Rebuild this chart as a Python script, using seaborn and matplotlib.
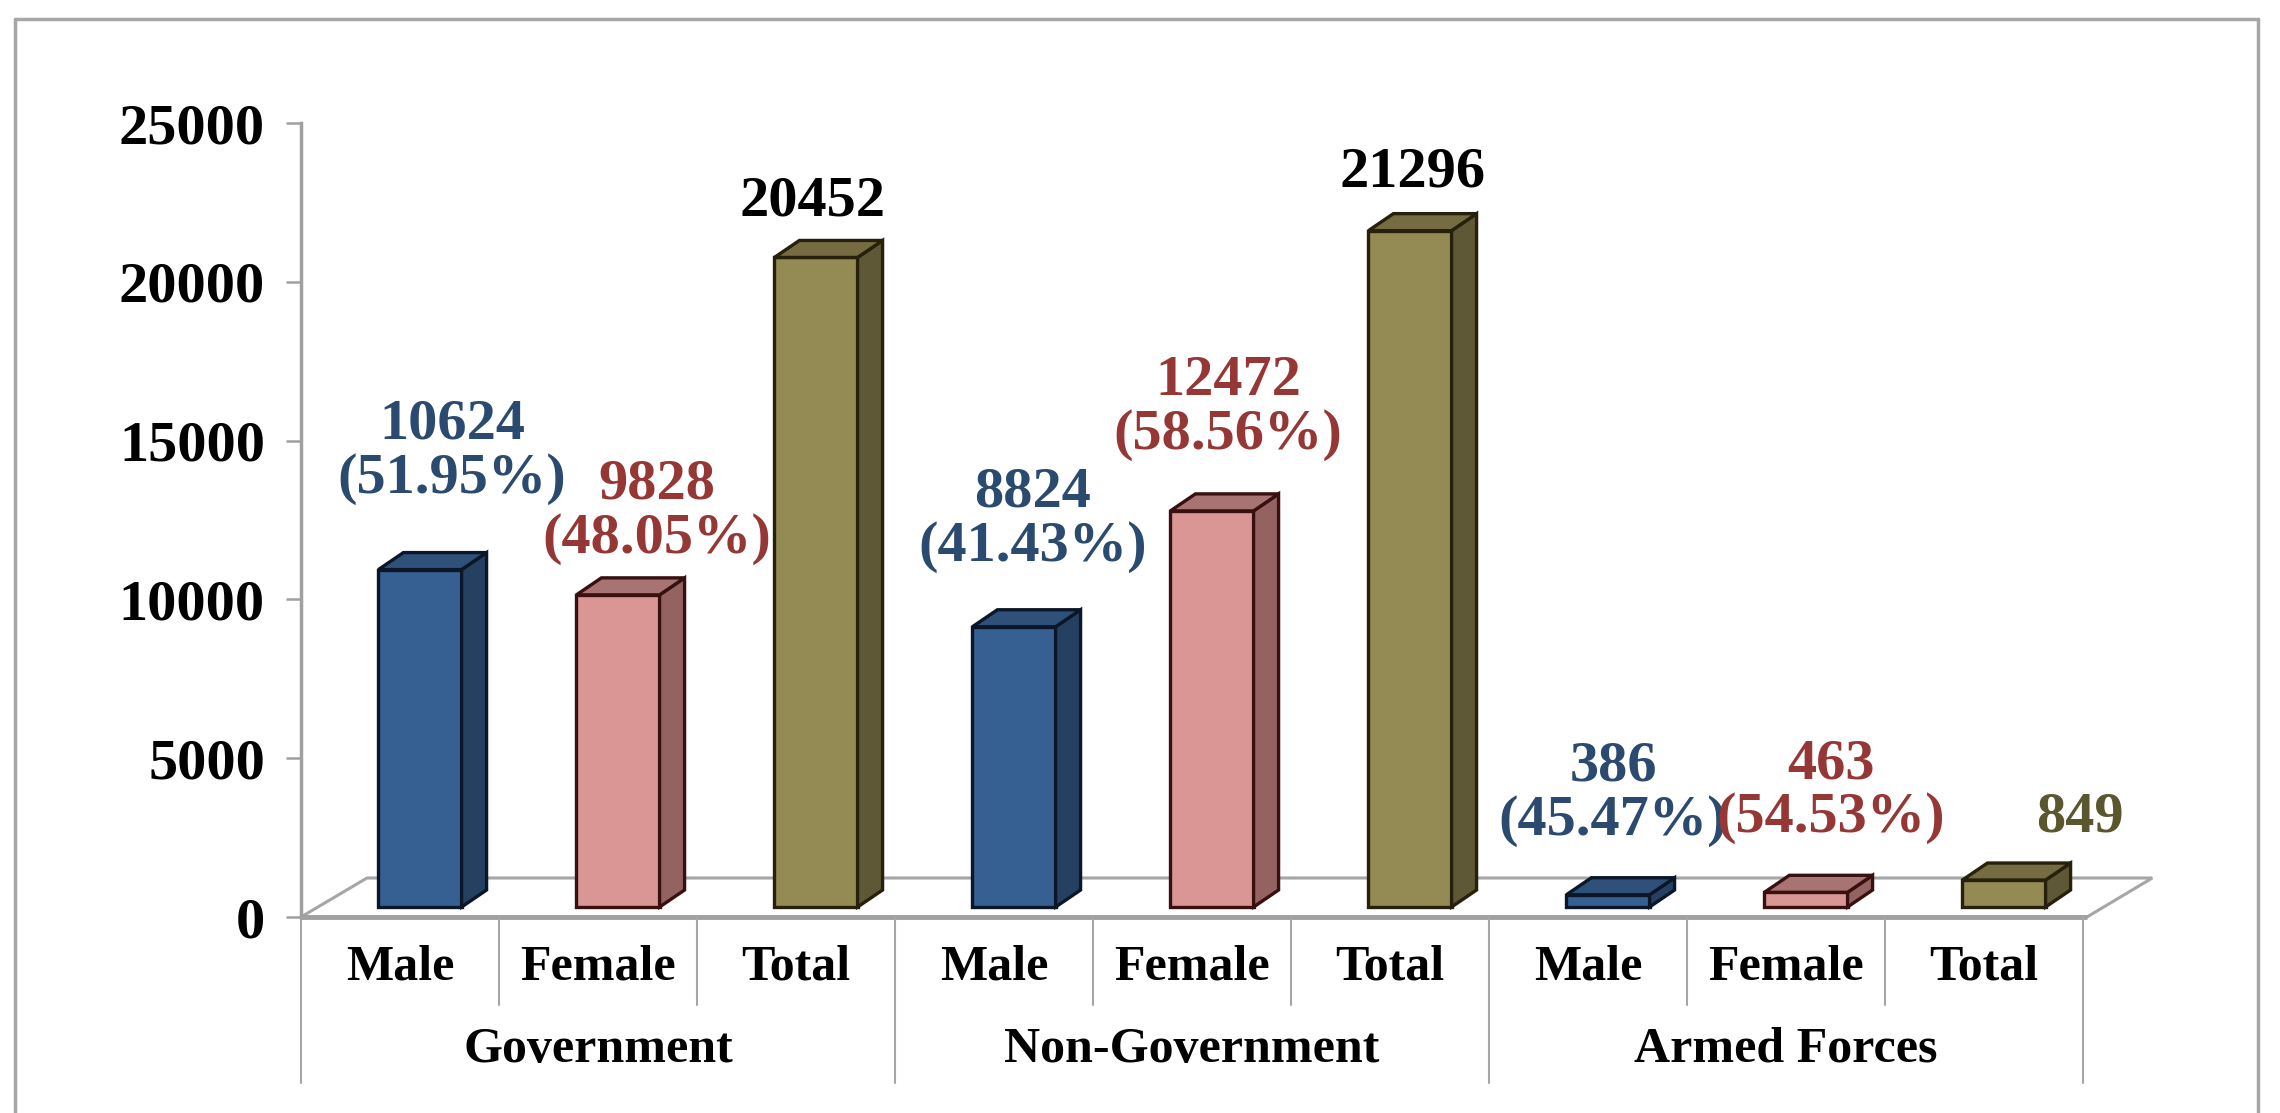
import numpy as np
import pandas as pd
import matplotlib
matplotlib.use('Agg')
import matplotlib.pyplot as plt
import seaborn as sns
from matplotlib.patches import Polygon
from matplotlib.lines import Line2D
from matplotlib.transforms import ScaledTranslation, blended_transform_factory

groups = ['Government', 'Non-Government', 'Armed Forces']
subcats = ['Male', 'Female', 'Total']
values = [10624, 9828, 20452, 8824, 12472, 21296, 386, 463, 849]
percents = [51.95, 48.05, None, 41.43, 58.56, None, 45.47, 54.53, None]
yticks = [0, 5000, 10000, 15000, 20000, 25000]

sns.set_theme(style='white')
plt.rcParams['font.family'] = ['Liberation Serif', 'DejaVu Serif']
plt.rcParams['font.weight'] = 'bold'

front = {'Male': '#376092', 'Female': '#d99694', 'Total': '#948a54'}
side = {'Male': '#254061', 'Female': '#956262', 'Total': '#5e5836'}
top = {'Male': '#2e5079', 'Female': '#a87473', 'Total': '#756c42'}
edge = {'Male': '#0b1729', 'Female': '#381010', 'Total': '#26200c'}
txtcol = {'Male': '#2b4a6f', 'Female': '#953735', 'Total': 'black'}
# (dx from bar front centre, dy above value line) in pixels
nudge = [(32, 128), (39, 93), (-4, 66), (19, 117), (16, 113), (3, 68),
         (5, 111), (25, 111), (76, 73)]

df = pd.DataFrame({
    'slot': [f'{g}|{s}' for g in groups for s in subcats],
    'sex': subcats * 3,
    'value': values,
})

W, H = 2280, 1113
fig = plt.figure(figsize=(W / 100, H / 100), dpi=100)
ax_l, ax_r, ax_t, ax_b = 301, 2083, 123, 917
ax = fig.add_axes([ax_l / W, 1 - ax_b / H, (ax_r - ax_l) / W, (ax_b - ax_t) / H])

sns.barplot(data=df, x='slot', y='value', hue='sex', palette=front, dodge=False,
            saturation=1, width=0.42, legend=False, ax=ax, zorder=3)
ax.set_xlim(-0.5, 8.5)
ax.set_ylim(0, 25000)

pxx = (ax_r - ax_l) / 9.0
pxy = (ax_b - ax_t) / 25000.0
dx, dy = 25 / pxx, 17 / pxy
shift = ax.transData + ScaledTranslation(0.20, 0.10, fig.dpi_scale_trans)

# floor
floor = Polygon([(-0.5, 0), (8.52, 0), (8.85, 39 / pxy), (-0.5 + 66 / pxx, 39 / pxy)],
                closed=True, facecolor='white', edgecolor='#a6a6a6', lw=2.2,
                clip_on=False, zorder=1)
ax.add_patch(floor)
ax.plot([-0.5, 8.52], [0, 0], color='#a0a0a0', lw=3.5, clip_on=False, zorder=2,
        solid_capstyle='butt')

for p in list(ax.patches):
    if p is floor:
        continue
    w = p.get_width()
    if w <= 0:
        continue
    x0 = p.get_x()
    v = p.get_height()
    i = int(round(x0 + w / 2))
    s = subcats[i % 3]
    p.set_transform(shift)
    p.set_edgecolor(edge[s])
    p.set_linewidth(2.4)
    x1 = x0 + w
    ax.add_patch(Polygon([(x1, 0), (x1 + dx, dy), (x1 + dx, v + dy), (x1, v)],
                         closed=True, facecolor=side[s], edgecolor=edge[s], lw=2.4,
                         transform=shift, zorder=3))
    ax.add_patch(Polygon([(x0, v), (x1, v), (x1 + dx, v + dy), (x0 + dx, v + dy)],
                         closed=True, facecolor=top[s], edgecolor=edge[s], lw=2.4,
                         transform=shift, zorder=3))

# data labels
for i, v in enumerate(values):
    s = subcats[i % 3]
    label = f'{v}' if percents[i] is None else f'{v}\n({percents[i]:.2f}%)'
    col = txtcol[s]
    if i == 8:
        col = '#5a562e'
    nx, ny = nudge[i]
    ax.annotate(label, xy=(i, v), xytext=(20 + nx, ny), textcoords='offset pixels',
                ha='center', va='center', fontsize=42, fontweight='bold',
                color=col, linespacing=1.05, zorder=5, annotation_clip=False)

# axes styling
for k in ['top', 'right', 'bottom']:
    ax.spines[k].set_visible(False)
ax.spines['left'].set_color('#a0a0a0')
ax.spines['left'].set_linewidth(2.5)
ax.set_yticks(yticks)
ax.set_yticklabels([str(t) for t in yticks], fontsize=42, fontweight='bold', color='black')
ax.tick_params(axis='y', direction='out', length=11, width=1.8, color='#a0a0a0',
               pad=15, left=True)
ax.set_xticks([])
ax.set_xlabel('')
ax.set_ylabel('')

# category table below the floor
trans = blended_transform_factory(ax.transData, ax.transAxes)
h = ax_b - ax_t
for k in range(10):
    xb = k - 0.5
    yend = -(1083 - ax_b) / h if k % 3 == 0 else -(1005 - ax_b) / h
    ax.add_line(Line2D([xb, xb], [0, yend], transform=trans, color='#a6a6a6',
                       lw=1.5, clip_on=False))
for i in range(9):
    ax.text(i, -(967 - ax_b) / h, subcats[i % 3], transform=trans, ha='center',
            va='center', fontsize=36, fontweight='bold', color='black')
for g, name in enumerate(groups):
    ax.text(3 * g + 1, -(1050 - ax_b) / h, name, transform=trans, ha='center',
            va='center', fontsize=36, fontweight='bold', color='black')

# outer frame
fx0, fx1, fy0 = 15 / W, 2258 / W, 1 - 19 / H
for xs, ys in [([fx0, fx0], [fy0, 0]), ([fx0, fx1], [fy0, fy0]), ([fx1, fx1], [fy0, 0])]:
    fig.add_artist(Line2D(xs, ys, color='#a6a6a6', lw=2.5, transform=fig.transFigure))

fig.savefig('out.png', dpi=100, facecolor='white')
